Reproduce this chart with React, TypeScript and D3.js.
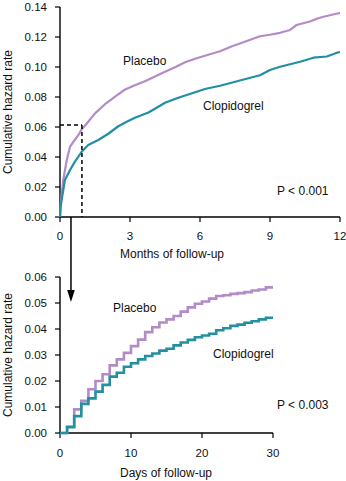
import React from "react";
import * as d3 from "d3";

// ---- Top panel data (months of follow-up) ----
const placeboMonths = [0, 0.04, 0.14, 0.29, 0.43, 0.57, 0.79, 0.93, 1.07, 1.5, 1.93, 2.36, 2.79, 3.21, 3.64, 4.07, 4.5, 4.93, 5.36, 5.79, 6.14, 6.86, 7.4, 7.86, 8.57, 9.0, 9.43, 9.86, 10.14, 10.71, 11.07, 11.29, 11.43, 11.93, 12];
const placeboMonthValues = [0, 0.01, 0.0247, 0.038, 0.0469, 0.05, 0.0547, 0.0585, 0.0608, 0.0691, 0.0752, 0.0802, 0.085, 0.0878, 0.0905, 0.0936, 0.0969, 0.0998, 0.1032, 0.1055, 0.1072, 0.1105, 0.114, 0.1165, 0.1205, 0.1215, 0.1228, 0.1247, 0.128, 0.1303, 0.1325, 0.1335, 0.134, 0.1358, 0.136];

const clopiMonths = [0, 0.02, 0.07, 0.21, 0.43, 0.64, 0.93, 1.21, 1.64, 2.07, 2.5, 2.86, 3.21, 3.79, 4.07, 4.5, 5.07, 5.79, 6.21, 6.86, 7.71, 8.57, 9.0, 9.43, 10.29, 10.86, 11.43, 11.93, 12];
const clopiMonthValues = [0, 0.006, 0.0113, 0.0247, 0.0313, 0.0369, 0.0435, 0.048, 0.0513, 0.0555, 0.0605, 0.0635, 0.0662, 0.0697, 0.0722, 0.0762, 0.0795, 0.0832, 0.0853, 0.0875, 0.091, 0.0945, 0.098, 0.1002, 0.1035, 0.1062, 0.107, 0.1098, 0.11];

const topXTicks = [0, 3, 6, 9, 12];
const topYTicks = [0, 0.02, 0.04, 0.06, 0.08, 0.1, 0.12, 0.14];

// ---- Bottom panel data (days of follow-up), value on [day, day+1) ----
const days = d3.range(0, 31);
const placeboDaily = [0, 0.0025, 0.0091, 0.0124, 0.0168, 0.02, 0.0226, 0.026, 0.0283, 0.0308, 0.0334, 0.0359, 0.0388, 0.0407, 0.0425, 0.0437, 0.045, 0.0467, 0.0483, 0.0497, 0.0506, 0.0517, 0.0527, 0.053, 0.0535, 0.0538, 0.0542, 0.0548, 0.0552, 0.056, 0.056];
const clopiDaily = [0, 0.0022, 0.0065, 0.0112, 0.0133, 0.0159, 0.0185, 0.0217, 0.0232, 0.0255, 0.0268, 0.0283, 0.0296, 0.0306, 0.0317, 0.0324, 0.0337, 0.0348, 0.0358, 0.0368, 0.0375, 0.0382, 0.0395, 0.0403, 0.0412, 0.0417, 0.0424, 0.043, 0.0437, 0.0443, 0.0443];

const botXTicks = [0, 10, 20, 30];
const botYTicks = [0, 0.01, 0.02, 0.03, 0.04, 0.05, 0.06];

const dashMonth = 0.94;
const dashValue = 0.0613;
const arrowMonth = 0.47;

const PURPLE = "#b48bc6";
const TEAL = "#2290a0";
const FONT = "'Liberation Sans', Arial, Helvetica, sans-serif";

export default function App() {
  const xTop = d3.scaleLinear().domain([0, 12]).range([60, 340]);
  const yTop = d3.scaleLinear().domain([0, 0.14]).range([217, 7]);
  const xBot = d3.scaleLinear().domain([0, 30]).range([60, 273]);
  const yBot = d3.scaleLinear().domain([0, 0.06]).range([433, 277]);

  const topLine = d3.line<[number, number]>().x((d) => xTop(d[0])).y((d) => yTop(d[1]));
  const botLine = d3
    .line<[number, number]>()
    .x((d) => xBot(d[0]))
    .y((d) => yBot(d[1]))
    .curve(d3.curveStepAfter);

  const pTop = topLine(placeboMonths.map((m, i) => [m, placeboMonthValues[i]] as [number, number]));
  const cTop = topLine(clopiMonths.map((m, i) => [m, clopiMonthValues[i]] as [number, number]));
  const pBot = botLine(days.map((d, i) => [d, placeboDaily[i]] as [number, number]));
  const cBot = botLine(days.map((d, i) => [d, clopiDaily[i]] as [number, number]));

  const fmt2 = d3.format(".2f");

  const axes = (
    x: d3.ScaleLinear<number, number>,
    y: d3.ScaleLinear<number, number>,
    xt: number[],
    yt: number[],
    xLabelY: number
  ) => {
    const [x0, x1] = x.range();
    const [y0, y1] = y.range();
    return (
      <g>
        <line x1={x0} x2={x0} y1={y0} y2={y1} stroke="#000" strokeWidth={1.4} />
        <line x1={x0} x2={x1} y1={y0} y2={y0} stroke="#000" strokeWidth={1.4} />
        {yt.map((t) => (
          <g key={"y" + t}>
            <line x1={x0 - 5} x2={x0} y1={y(t)} y2={y(t)} stroke="#000" strokeWidth={1.2} />
            <text x={47} y={y(t)} dy="0.36em" textAnchor="end" fontSize={11.5} fontFamily={FONT} fill="#111">
              {fmt2(t)}
            </text>
          </g>
        ))}
        {xt.map((t) => (
          <g key={"x" + t}>
            <line x1={x(t)} x2={x(t)} y1={y0} y2={y0 + 5} stroke="#000" strokeWidth={1.2} />
            <text x={x(t)} y={xLabelY} textAnchor="middle" fontSize={11.5} fontFamily={FONT} fill="#111">
              {t}
            </text>
          </g>
        ))}
      </g>
    );
  };

  return (
    <svg
      width={346}
      height={481}
      style={{ position: "absolute", left: 0, top: 0, background: "#fff" }}
    >
      <rect x={0} y={0} width={346} height={481} fill="#fff" />
      {/* Top panel */}
      {axes(xTop, yTop, topXTicks, topYTicks, 240)}
      <path d={pTop ?? ""} fill="none" stroke={PURPLE} strokeWidth={2.2} strokeLinejoin="round" />
      <path d={cTop ?? ""} fill="none" stroke={TEAL} strokeWidth={2.2} strokeLinejoin="round" />
      <line x1={xTop(0)} x2={xTop(dashMonth)} y1={yTop(dashValue)} y2={yTop(dashValue)} stroke="#000" strokeWidth={1.5} strokeDasharray="4,3" />
      <line x1={xTop(dashMonth)} x2={xTop(dashMonth)} y1={yTop(dashValue)} y2={yTop(0)} stroke="#000" strokeWidth={1.5} strokeDasharray="4,3" />
      <text x={123} y={65} fontSize={12} fontFamily={FONT} fill="#111">Placebo</text>
      <text x={203} y={110} fontSize={12} fontFamily={FONT} fill="#111">Clopidogrel</text>
      <text x={277} y={195} fontSize={12} fontFamily={FONT} fill="#111">P &lt; 0.001</text>
      <text x={172} y={258} textAnchor="middle" fontSize={12} fontFamily={FONT} fill="#111">Months of follow-up</text>
      <text transform="translate(12,112) rotate(-90)" textAnchor="middle" fontSize={12} fontFamily={FONT} fill="#111">
        Cumulative hazard rate
      </text>

      {/* Arrow */}
      <line x1={xTop(arrowMonth)} x2={xTop(arrowMonth)} y1={yTop(0)} y2={291} stroke="#000" strokeWidth={1.5} />
      <path
        d={`M${xTop(arrowMonth) - 3.8},290 L${xTop(arrowMonth) + 3.8},290 L${xTop(arrowMonth)},302 Z`}
        fill="#000"
      />

      {/* Bottom panel */}
      {axes(xBot, yBot, botXTicks, botYTicks, 457)}
      <path d={pBot ?? ""} fill="none" stroke={PURPLE} strokeWidth={2.6} />
      <path d={cBot ?? ""} fill="none" stroke={TEAL} strokeWidth={2.6} />
      <text x={113} y={312} fontSize={12} fontFamily={FONT} fill="#111">Placebo</text>
      <text x={213} y={358} fontSize={12} fontFamily={FONT} fill="#111">Clopidogrel</text>
      <text x={277} y={409} fontSize={12} fontFamily={FONT} fill="#111">P &lt; 0.003</text>
      <text x={166} y={477} textAnchor="middle" fontSize={12} fontFamily={FONT} fill="#111">Days of follow-up</text>
      <text transform="translate(12,355) rotate(-90)" textAnchor="middle" fontSize={12} fontFamily={FONT} fill="#111">
        Cumulative hazard rate
      </text>
    </svg>
  );
}
